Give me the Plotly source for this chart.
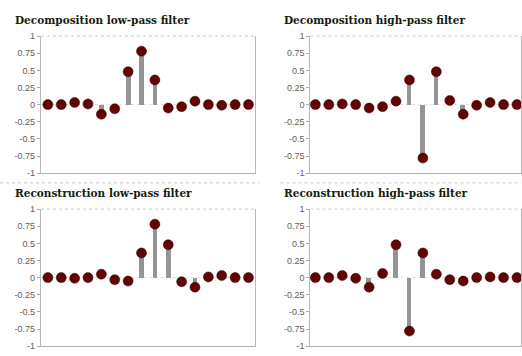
import plotly.graph_objects as go

idx = list(range(16))
dec_lo = [0.00, -0.00, 0.03, 0.01, -0.14, -0.06, 0.48, 0.78, 0.36, -0.05, -0.03, 0.05, 0.00, -0.01, 0.00, 0.00]
dec_hi = [-0.00, -0.00, 0.01, 0.00, -0.05, -0.03, 0.05, 0.36, -0.78, 0.48, 0.06, -0.14, -0.01, 0.03, 0.00, -0.00]
rec_lo = [0.00, -0.00, -0.01, 0.00, 0.05, -0.03, -0.05, 0.36, 0.78, 0.48, -0.06, -0.14, 0.01, 0.03, -0.00, -0.00]
rec_hi = [-0.00, 0.00, 0.03, -0.01, -0.14, 0.06, 0.48, -0.78, 0.36, 0.05, -0.03, -0.05, 0.00, 0.01, -0.00, -0.00]
titles = ["Decomposition low-pass filter", "Decomposition high-pass filter",
          "Reconstruction low-pass filter", "Reconstruction high-pass filter"]
tick_vals = [-1, -0.75, -0.5, -0.25, 0, 0.25, 0.5, 0.75, 1]
tick_text = ["-1", "-0.75", "-0.5", "-0.25", "0", "0.25", "0.5", "0.75", "1"]

W, H = 522, 356
def px(x): return x / W
def py(y): return 1 - y / H

panels = [
    dict(data=dec_lo, x=(41, 255), y=(32, 173), xr=[-0.52, 15.45], tx=13, ty=15),
    dict(data=dec_hi, x=(311, 522), y=(32, 173), xr=[-0.37, 15.3], tx=283, ty=15),
    dict(data=rec_lo, x=(41, 255), y=(210, 351), xr=[-0.52, 15.45], tx=13, ty=193),
    dict(data=rec_hi, x=(311, 522), y=(210, 351), xr=[-0.37, 15.3], tx=283, ty=193),
]

fig = go.Figure()
shapes = []
annotations = []
layout = {}
for i, (p, t) in enumerate(zip(panels, titles)):
    n = "" if i == 0 else str(i + 1)
    xa, ya = "x" + n, "y" + n
    fig.add_trace(go.Bar(x=idx, y=p["data"], width=0.35, marker=dict(color="#959595", line=dict(width=0)),
                         xaxis=xa, yaxis=ya, showlegend=False))
    fig.add_trace(go.Scatter(x=idx, y=p["data"], mode="markers", cliponaxis=False,
                             marker=dict(color="#620406", size=10, line=dict(width=0.5, color="#3a0000")),
                             xaxis=xa, yaxis=ya, showlegend=False))
    layout["xaxis" + n] = dict(domain=[px(p["x"][0]), px(p["x"][1])], range=p["xr"], anchor=ya,
                               showticklabels=False, ticks="", showgrid=False, zeroline=False,
                               showline=True, linecolor="#b0b0b0", linewidth=1)
    layout["yaxis" + n] = dict(domain=[py(p["y"][1]), py(p["y"][0])], range=[-1, 1], anchor=xa,
                               tickvals=tick_vals, ticktext=tick_text, ticks="outside", ticklen=3,
                               tickcolor="#aaaaaa", tickfont=dict(size=9, color="#606060", family="Liberation Sans"),
                               showgrid=False, zeroline=False, showline=True, mirror=True,
                               linecolor="#b8b8b8", linewidth=1)
    # dotted top border
    shapes.append(dict(type="line", xref="paper", yref="paper", x0=px(p["x"][0]), x1=px(p["x"][1]),
                       y0=py(p["y"][0]), y1=py(p["y"][0]), line=dict(color="#c8c8c8", width=1, dash="dot")))
    # faint zero line
    shapes.append(dict(type="line", xref=xa + " domain", yref=ya, x0=0, x1=1, y0=0, y1=0,
                       line=dict(color="#e2d6dc", width=1, dash="dot"), layer="below"))
    annotations.append(dict(text=t, xref="paper", yref="paper", x=px(p["tx"]), y=py(p["ty"]),
                            xanchor="left", yanchor="middle", showarrow=False,
                            font=dict(family="DejaVu Serif", size=10.5, color="#141c0c", weight="bold")))

# separator between rows
shapes.append(dict(type="line", xref="paper", yref="paper", x0=0, x1=px(260), y0=py(183), y1=py(183),
                   line=dict(color="#c8c8c8", width=1, dash="dot")))
shapes.append(dict(type="line", xref="paper", yref="paper", x0=px(281), x1=1, y0=py(183), y1=py(183),
                   line=dict(color="#c8c8c8", width=1, dash="dot")))

fig.update_layout(width=W, height=H, margin=dict(l=0, r=0, t=0, b=0), paper_bgcolor="white",
                  plot_bgcolor="white", shapes=shapes, annotations=annotations, bargap=0, **layout)
fig.write_html("out.html")
